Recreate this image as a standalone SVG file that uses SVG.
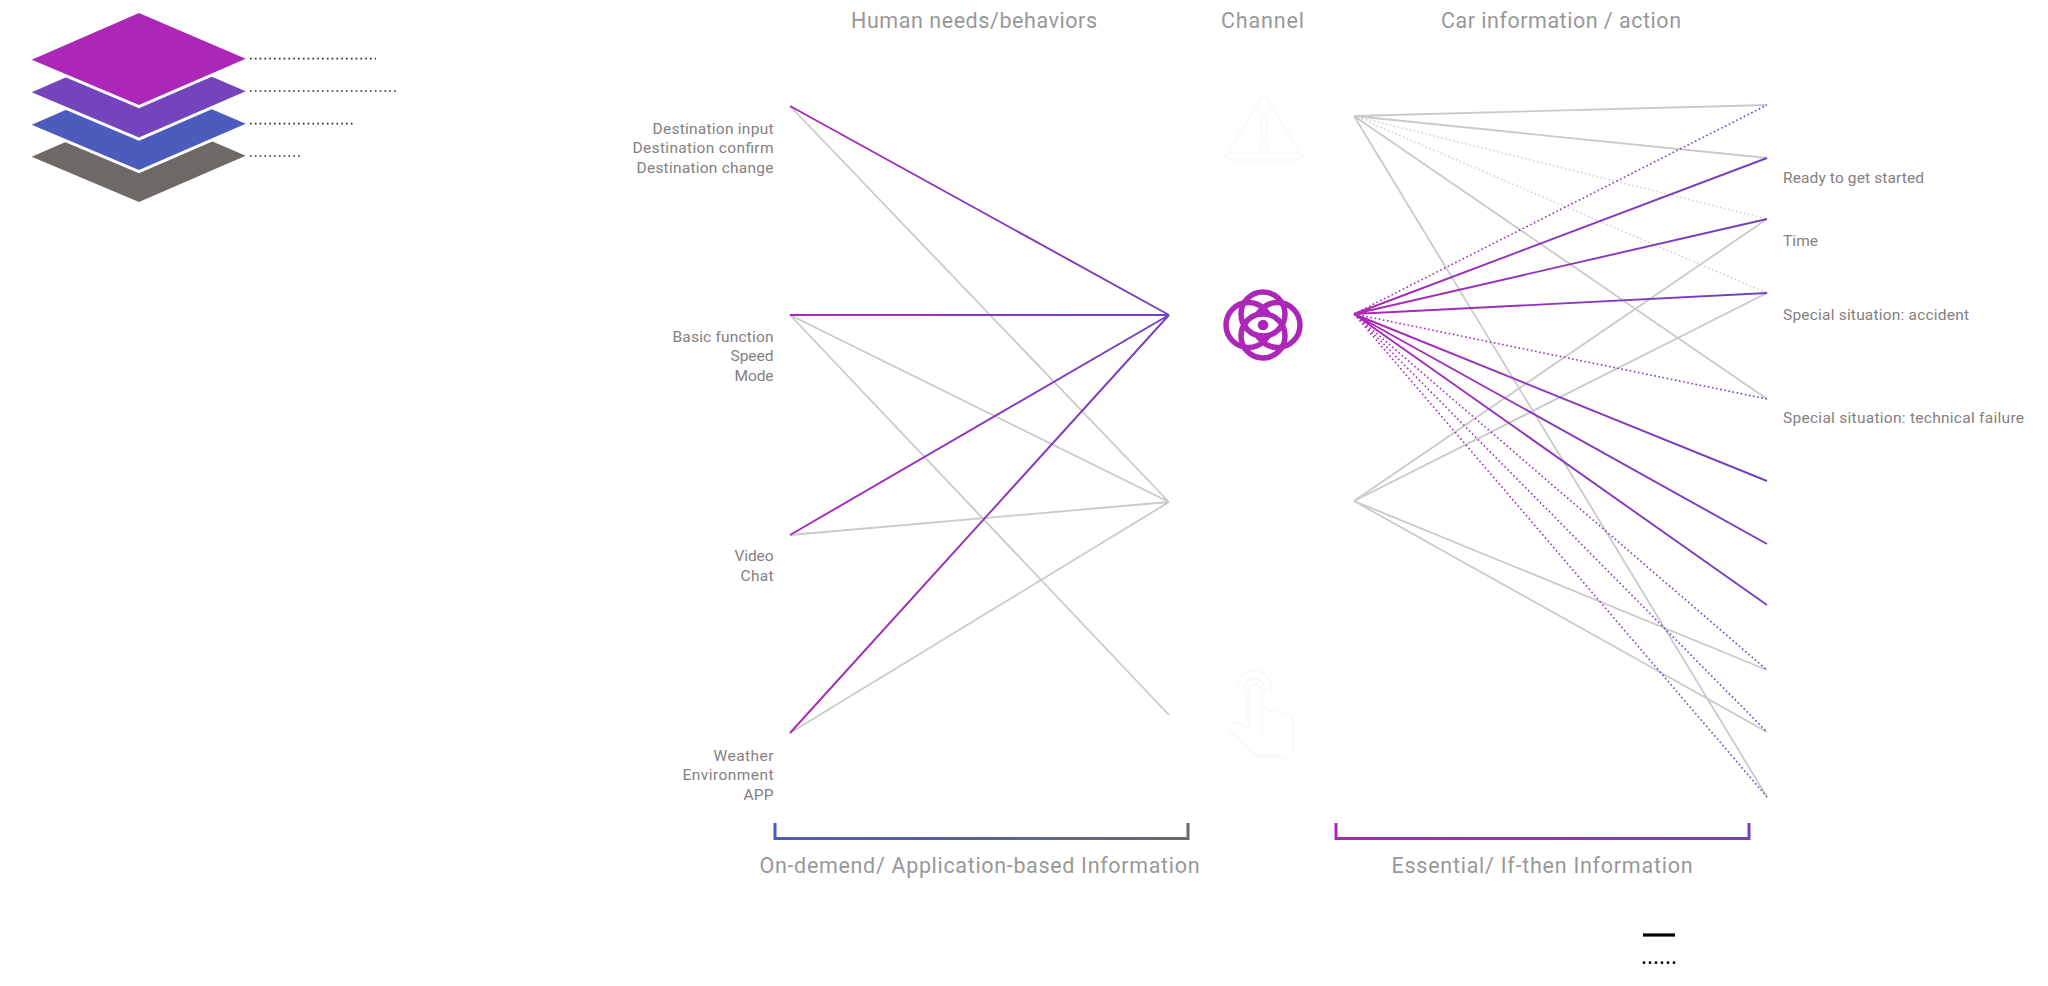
<svg xmlns="http://www.w3.org/2000/svg" width="2048" height="986" viewBox="0 0 2048 986">
<style>
text{font-family:"Roboto","Liberation Sans",sans-serif}
.lab{font-size:15.5px;fill:#858080}
.end{text-anchor:end}
.head{font-size:21.5px;fill:#999898}
.g{stroke:#cbcaca;stroke-width:1.8;fill:none}
.gd{stroke:#cfcece;stroke-width:1.5;stroke-dasharray:1.5 2.6;fill:none}
.pl{stroke:url(#gl);stroke-width:1.9;fill:none}
.pr{stroke:url(#gr);stroke-width:1.9;fill:none}
.prd{stroke:url(#gr);stroke-width:1.6;stroke-dasharray:1.6 2.6;fill:none}
.lead{stroke:#333;stroke-width:1.7;stroke-dasharray:1.7 3.1;fill:none}
.faint{fill:none;stroke:#fbf9f9;stroke-width:2.4;stroke-linecap:round;stroke-linejoin:round}
.eye{fill:none;stroke:#ac27b8;stroke-width:5.500}
</style>
<defs>
<linearGradient id="gl" gradientUnits="userSpaceOnUse" x1="790" y1="0" x2="1169" y2="0"><stop offset="0" stop-color="#ac27b8"/><stop offset="1" stop-color="#6f42c1"/></linearGradient>
<linearGradient id="gr" gradientUnits="userSpaceOnUse" x1="1354" y1="0" x2="1767" y2="0"><stop offset="0" stop-color="#ac27b8"/><stop offset="1" stop-color="#6f42c1"/></linearGradient>
<linearGradient id="b1" gradientUnits="userSpaceOnUse" x1="775" y1="0" x2="1188" y2="0"><stop offset="0" stop-color="#4b5cbd"/><stop offset="1" stop-color="#6e6966"/></linearGradient>
<linearGradient id="b2" gradientUnits="userSpaceOnUse" x1="1335" y1="0" x2="1749" y2="0"><stop offset="0" stop-color="#ac27b8"/><stop offset="1" stop-color="#7544bc"/></linearGradient>
<polygon id="dia" points="139,13 245.7,58.7 139,105 31.7,59.7"/>
</defs>

<g id="layer-stack">
<use href="#dia" y="97" fill="#6e6966"/>
<use href="#dia" y="68.300" fill="#fff"/>
<use href="#dia" y="65" fill="#4b5cbd"/>
<use href="#dia" y="35.800" fill="#fff"/>
<use href="#dia" y="32.500" fill="#7544bc"/>
<use href="#dia" y="3.300" fill="#fff"/>
<use href="#dia" fill="#ac27b8"/>
<path class="lead" d="M250 58.700H376M250 91H397M250 123.700H353M250 156H300"/>
</g>

<g id="connectors">
<path class="g" d="M790 106L1169 502M790 315L1169 502M790 315L1169 715M790 535L1169 502M790 733L1169 502"/>
<path class="pl" d="M790 106L1169 315M790 315H1169M790 535L1169 315M790 733L1169 315"/>
<path class="g" d="M1354 116L1767 105M1354 116L1767 158M1354 116L1767 399M1354 116L1767 797M1354 501L1767 219M1354 501L1767 293M1354 501L1767 670M1354 501L1767 732"/>
<path class="gd" d="M1354 116L1767 219M1354 116L1767 293"/>
<path class="prd" d="M1354 314L1767 105M1354 314L1767 399M1354 314L1767 670M1354 314L1767 732M1354 314L1767 797"/>
<path class="pr" d="M1354 314L1767 158M1354 314L1767 219M1354 314L1767 293M1354 314L1767 481M1354 314L1767 544M1354 314L1767 605"/>
</g>

<g id="headers">
<text class="head" x="974" y="27.500" text-anchor="middle" textLength="246">Human needs/behaviors</text>
<text class="head" x="1262.500" y="27.500" text-anchor="middle" textLength="83">Channel</text>
<text class="head" x="1561" y="27.500" text-anchor="middle" textLength="240">Car information / action</text>
</g>

<g id="human-labels">
<g id="n-destination"><text class="lab end" x="773.500" y="133.500" textLength="121">Destination input</text><text class="lab end" x="773.500" y="153" textLength="141">Destination confirm</text><text class="lab end" x="773.500" y="172.500" textLength="137">Destination change</text></g>
<g id="n-basic"><text class="lab end" x="773.500" y="341.500" textLength="101">Basic function</text><text class="lab end" x="773.500" y="361" textLength="43">Speed</text><text class="lab end" x="773.500" y="380.500" textLength="39">Mode</text></g>
<g id="n-video"><text class="lab end" x="773.500" y="560.500" textLength="39">Video</text><text class="lab end" x="773.500" y="581" textLength="33">Chat</text></g>
<g id="n-weather"><text class="lab end" x="773.500" y="760.500" textLength="60">Weather</text><text class="lab end" x="773.500" y="779.500" textLength="91">Environment</text><text class="lab end" x="773.500" y="799.500" textLength="30">APP</text></g>
</g>

<g id="channel-warning">
<path class="faint" d="M1264 94L1226 156Q1225 159 1229 160H1299Q1303 159 1302 156Z"/>
<path class="faint" d="M1230 153H1298M1261 116H1267L1266 138H1262ZM1264 142a4 4 0 1 0 .01 0"/>
</g>
<g id="channel-vision">
<circle class="eye" cx="1248.500" cy="325" r="22.500"/>
<circle class="eye" cx="1277.500" cy="325" r="22.500"/>
<circle class="eye" cx="1263" cy="314" r="22"/>
<circle class="eye" cx="1263" cy="336" r="22"/>
<path d="M1244 325A22 22 0 0 1 1282 325A22 22 0 0 1 1244 325Z" fill="#fff"/>
<path class="eye" d="M1244 325A22 22 0 0 1 1282 325A22 22 0 0 1 1244 325Z"/>
<circle cx="1263" cy="325" r="5.300" fill="#ac27b8"/>
</g>
<g id="channel-touch">
<path class="faint" d="M1238 691C1234 664 1272 664 1272 691M1244 690C1242 676 1266 676 1265 690"/>
<path class="faint" d="M1262 732V692C1262 682 1248 682 1248 692V730L1240 723C1234 720 1228 727 1232 732L1256 756Q1258 758 1262 758H1285Q1293 758 1293 750V722C1293 712 1282 712 1282 717C1280 708 1270 708 1270 714C1268 706 1262 706 1262 710"/>
<path class="faint" d="M1258 755H1284"/>
</g>

<g id="car-labels">
<g id="n-ready"><text class="lab" x="1783" y="183" textLength="141">Ready to get started</text></g>
<g id="n-time"><text class="lab" x="1783" y="245.500" textLength="35">Time</text></g>
<g id="n-accident"><text class="lab" x="1783" y="320" textLength="186">Special situation: accident</text></g>
<g id="n-failure"><text class="lab" x="1783" y="423" textLength="241">Special situation: technical failure</text></g>
</g>

<g id="bracket-on-demand">
<path d="M775 823V838.500H1188V823" fill="none" stroke="url(#b1)" stroke-width="3"/>
<text class="head" x="979.500" y="872.500" text-anchor="middle" textLength="440">On-demend/ Application-based Information</text>
</g>
<g id="bracket-essential">
<path d="M1336 823V838.500H1749V823" fill="none" stroke="url(#b2)" stroke-width="3"/>
<text class="head" x="1542" y="872.500" text-anchor="middle" textLength="301">Essential/ If-then Information</text>
</g>

<g id="legend">
<path d="M1643 935H1675" stroke="#000" stroke-width="3.200" fill="none"/>
<path d="M1644 962.700H1676" stroke="#000" stroke-width="2.800" stroke-linecap="round" stroke-dasharray="0 6" fill="none"/>
</g>
</svg>
